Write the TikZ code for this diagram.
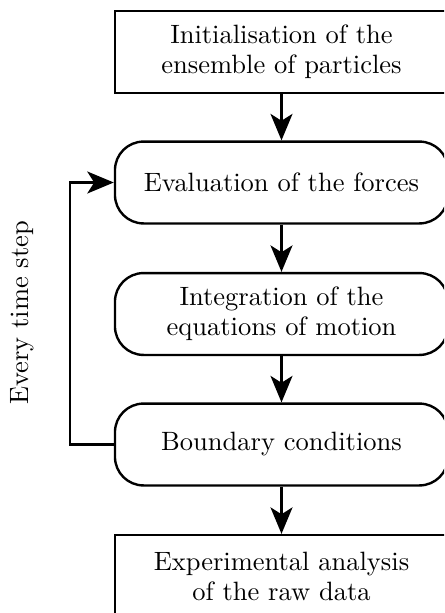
\documentclass[tikz,border=0pt]{standalone}
\usetikzlibrary{arrows.meta}
\begin{document}
\begin{tikzpicture}[x=0.3774pt,y=-0.3774pt,>={Stealth[length=10pt,width=8.3pt,inset=2.6pt]},line width=0.9pt,
	font=\fontsize{10}{11.3}\selectfont,
	blok/.style={draw,rectangle,minimum width=125.7pt,minimum height=30.9pt,align=center,inner sep=0pt},
	rblok/.style={blok,rounded corners=10.8pt}]
	\useasboundingbox (0,0) rectangle (444,613);
	\clip (0,0) rectangle (444,613);
	\node[blok] (init) at (281.5,52) {Initialisation of the\\ensemble of particles};
	\node[rblok] (eval) at (281.5,182.5) {Evaluation of the forces};
	\node[rblok] (integ) at (281.5,314) {Integration of the\\equations of motion};
	\node[rblok] (bound) at (281.5,444.5) {Boundary conditions};
	\node[blok] (anal) at (281.5,576) {Experimental analysis\\of the raw data};
	\draw[->] (init)--(eval);
	\draw[->] (eval)--(integ);
	\draw[->] (integ)--(bound);
	\draw[->] (bound)--(anal);
	\draw[->] (bound.west)--++(-44,0)|-(eval.west);
	\node[rotate=90] (lbl) at (22,313) {Every time step};
\end{tikzpicture}
\end{document}
